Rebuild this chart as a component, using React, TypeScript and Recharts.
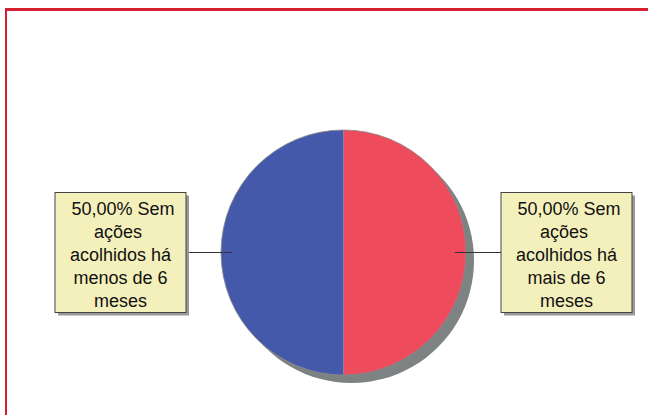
import { PieChart, Pie, Cell } from 'recharts';

const categories = [
  'Sem ações acolhidos há menos de 6 meses',
  'Sem ações acolhidos há mais de 6 meses',
];
const values = [50, 50];
const sliceColors = ['#4459a9', '#ee4b5c'];
// wrapped label text as it shows in the boxes
const labelLines = [
  [' 50,00% Sem', 'ações ', 'acolhidos há', 'menos de 6', 'meses'],
  [' 50,00% Sem', 'ações ', 'acolhidos há', 'mais de 6', 'meses'],
];

const data = categories.map((name, i) => ({ name, value: values[i] }));
const shadowData = [{ name: 'shadow', value: 1 }];

const RAD = Math.PI / 180;
const BOX_W = 131;
const BOX_H = 120;

function renderLabel(props: any) {
  const { cx, cy, midAngle, outerRadius, index } = props;
  const dir = Math.cos(-midAngle * RAD) < 0 ? -1 : 1;
  const y = cy + Math.sin(-midAngle * RAD) * outerRadius;
  const lineStart = cx + dir * (outerRadius - 11);
  const boxEdge = cx + dir * (outerRadius + 35);
  const boxX = dir < 0 ? boxEdge - BOX_W : boxEdge;
  const boxY = y - BOX_H / 2;
  const lines = labelLines[index] ?? [];
  return (
    <g key={`lbl-${index}`}>
      <line x1={lineStart} y1={y} x2={boxEdge} y2={y} stroke="#333" strokeWidth={1} />
      <rect x={boxX + 3} y={boxY + 3} width={BOX_W} height={BOX_H} fill="#9a9a9a" />
      <rect x={boxX} y={boxY} width={BOX_W} height={BOX_H} fill="#f4f0bc" stroke="#444" strokeWidth={1} />
      <text
        x={boxX + BOX_W / 2}
        y={boxY + 22.5}
        textAnchor="middle"
        fontFamily="'Liberation Sans', Arial, sans-serif"
        fontSize={18}
        fill="#111"
        style={{ whiteSpace: 'pre' }}
      >
        {lines.map((t, i) => (
          <tspan key={i} x={boxX + BOX_W / 2} dy={i === 0 ? 0 : 23}>
            {t}
          </tspan>
        ))}
      </text>
    </g>
  );
}

export default function App() {
  return (
    <div style={{ position: 'absolute', left: 0, top: 0, width: 648, height: 415, background: '#fff', overflow: 'hidden' }}>
      <div
        style={{
          position: 'absolute',
          left: 5,
          top: 8,
          right: 0,
          bottom: 0,
          borderTop: '3px solid #d7202f',
          borderLeft: '2px solid #d7202f',
        }}
      />
      <div style={{ position: 'absolute', left: 0, top: 0 }}>
        <PieChart width={648} height={415} margin={{ top: 0, right: 0, bottom: 0, left: 0 }}>
          <Pie
            data={shadowData}
            dataKey="value"
            cx={351.5}
            cy={260.5}
            outerRadius={122.5}
            fill="#7d8283"
            stroke="none"
            isAnimationActive={false}
          />
          <Pie
            data={data}
            dataKey="value"
            cx={343.5}
            cy={252.5}
            outerRadius={122.5}
            startAngle={90}
            endAngle={450}
            stroke="#8a8a8a"
            strokeWidth={0.8}
            label={renderLabel}
            labelLine={false}
            isAnimationActive={false}
          >
            {data.map((d, i) => (
              <Cell key={d.name} fill={sliceColors[i]} />
            ))}
          </Pie>
        </PieChart>
      </div>
    </div>
  );
}
